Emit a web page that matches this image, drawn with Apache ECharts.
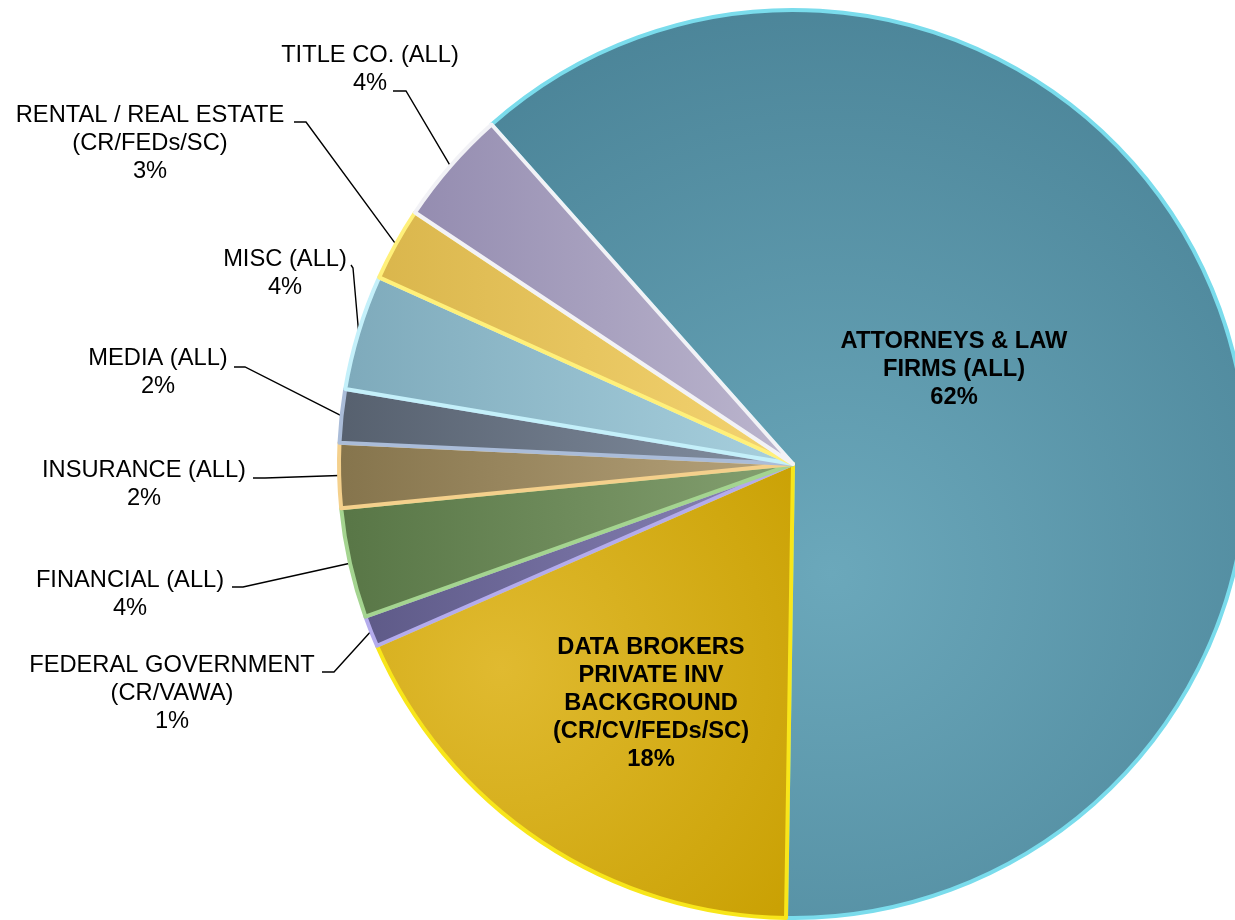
<!DOCTYPE html>
<html>
<head>
<meta charset="utf-8">
<script src="https://cdn.jsdelivr.net/npm/echarts@6/dist/echarts.min.js"></script>
<style>
html,body{margin:0;padding:0;background:#fff;}
#chart{width:1235px;height:920px;}
</style>
</head>
<body>
<div id="chart"></div>
<script>
// ---- data ----
const categories = [
  'ATTORNEYS & LAW\nFIRMS (ALL)',
  'DATA BROKERS\nPRIVATE INV\nBACKGROUND\n(CR/CV/FEDs/SC)',
  'FEDERAL GOVERNMENT\n(CR/VAWA)',
  'FINANCIAL (ALL)',
  'INSURANCE (ALL)',
  'MEDIA (ALL)',
  'MISC (ALL)',
  'RENTAL / REAL ESTATE\n(CR/FEDs/SC)',
  'TITLE CO. (ALL)'
];
const values = [61.8, 18.2, 1.1, 3.9, 2.3, 1.9, 4.1, 2.6, 4.1];

// ---- styles ----
const fills = [
  {type:'radial', x:0.45, y:0.62, r:0.8, colorStops:[{offset:0,color:'#6ba8bb'},{offset:1,color:'#4a8397'}]},
  {type:'radial', x:0.3, y:0.45, r:0.95, colorStops:[{offset:0,color:'#e0ba30'},{offset:1,color:'#c89f00'}]},
  {type:'linear', x:0, y:0, x2:1, y2:0, colorStops:[{offset:0,color:'#5e5a88'},{offset:1,color:'#8a84b8'}]},
  {type:'linear', x:0, y:0, x2:1, y2:0, colorStops:[{offset:0,color:'#587646'},{offset:1,color:'#84a070'}]},
  {type:'linear', x:0, y:0, x2:1, y2:0, colorStops:[{offset:0,color:'#85744c'},{offset:1,color:'#b8a47c'}]},
  {type:'linear', x:0, y:0, x2:1, y2:0, colorStops:[{offset:0,color:'#56606e'},{offset:1,color:'#8490a2'}]},
  {type:'linear', x:0, y:0, x2:1, y2:0, colorStops:[{offset:0,color:'#7eaabb'},{offset:1,color:'#a8d0de'}]},
  {type:'linear', x:0, y:0, x2:1, y2:0, colorStops:[{offset:0,color:'#dab64c'},{offset:1,color:'#f4d472'}]},
  {type:'linear', x:0, y:0, x2:1, y2:0, colorStops:[{offset:0,color:'#948cb0'},{offset:1,color:'#bcb6ce'}]}
];
const borders = ['#7adcec','#f8e61a','#b4acec','#a4d490','#f4d08c','#aabcd8','#c4f0fa','#fff07a','#f2f2f6'];
const insideLabel = [true, true, false, false, false, false, false, false, false];

// label placement (layout config)
const labelPlace = [
  {x:954, y:327},
  {x:651, y:633},
  {x:172, y:651, hook:[322,672], elbow:[334,672]},
  {x:130, y:566, hook:[232,587], elbow:[243,587]},
  {x:144, y:456, hook:[253,478], elbow:[265,478]},
  {x:158, y:344, hook:[234,367], elbow:[245,367]},
  {x:285, y:245, hook:[351,265], elbow:[353,268]},
  {x:150, y:101, hook:[294,122], elbow:[306,122]},
  {x:370, y:41,  hook:[393,91],  elbow:[406,91]}
];

const seriesData = categories.map((name, i) => ({
  name: name,
  value: values[i],
  itemStyle: { color: fills[i], borderColor: borders[i] },
  label: insideLabel[i]
    ? { position: 'inside', fontWeight: 'bold' }
    : { position: 'outside' },
  labelLine: { show: !insideLabel[i] }
}));

const chart = echarts.init(document.getElementById('chart'), null, {renderer:'canvas'});
chart.setOption({
  animation: false,
  backgroundColor: '#ffffff',
  series: [{
    type: 'pie',
    center: [793, 464],
    radius: 454,
    startAngle: 131.6,
    clockwise: true,
    avoidLabelOverlap: false,
    silent: true,
    itemStyle: { borderWidth: 4, borderJoin: 'round' },
    label: {
      show: true,
      color: '#000',
      fontFamily: 'Liberation Sans, Arial, sans-serif',
      fontSize: 23.7,
      lineHeight: 28,
      align: 'center',
      overflow: 'none',
      formatter: p => p.name + '\n' + Math.round(p.percent) + '%'
    },
    labelLine: { lineStyle: { color: '#000', width: 1.4 } },
    labelLayout: function (params) {
      const cfg = labelPlace[params.dataIndex];
      const res = { x: cfg.x, y: cfg.y, align: 'center', verticalAlign: 'top' };
      if (cfg.hook && params.labelLinePoints) {
        res.labelLinePoints = [params.labelLinePoints[0], cfg.elbow, cfg.hook];
      }
      return res;
    },
    emphasis: { disabled: true },
    data: seriesData
  }]
});
</script>
</body>
</html>
